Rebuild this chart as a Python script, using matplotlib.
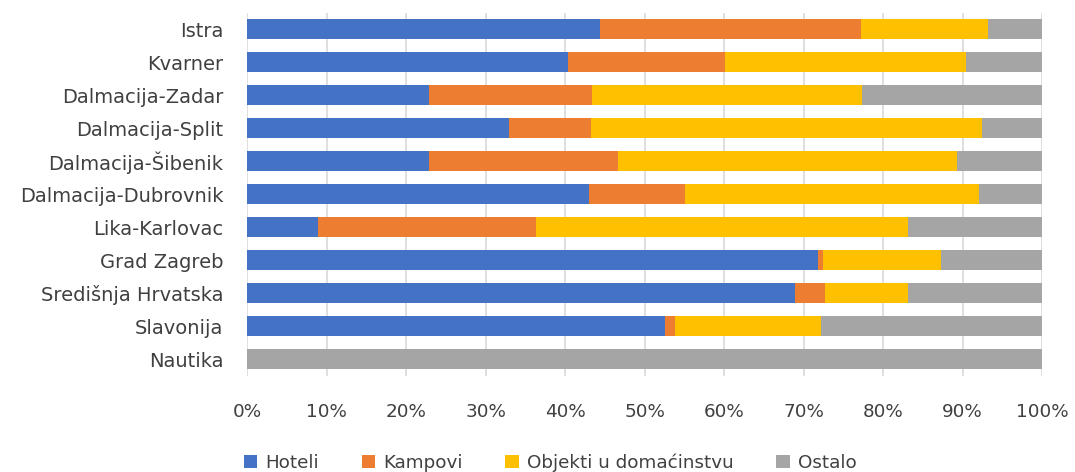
import numpy as np
import matplotlib
matplotlib.use("Agg")
import matplotlib.pyplot as plt
from matplotlib.ticker import PercentFormatter

plt.rcParams['font.family'] = ['DejaVu Sans']

regije = ['Istra', 'Kvarner', 'Dalmacija-Zadar', 'Dalmacija-Split',
          'Dalmacija-Šibenik', 'Dalmacija-Dubrovnik', 'Lika-Karlovac',
          'Grad Zagreb', 'Središnja Hrvatska', 'Slavonija', 'Nautika']

# udjeli (%) po vrsti smještaja
hoteli = [44.4, 40.4, 22.9, 33.0, 22.9, 43.0, 8.9, 71.8, 68.9, 52.6, 0.0]
kampovi = [32.8, 19.7, 20.5, 10.3, 23.8, 12.1, 27.4, 0.6, 3.8, 1.2, 0.0]
objekti = [16.0, 30.3, 33.9, 49.1, 42.6, 37.0, 46.8, 14.9, 10.4, 18.4, 0.0]
ostalo = [6.8, 9.6, 22.7, 7.6, 10.7, 7.9, 16.9, 12.7, 16.9, 27.8, 100.0]

serije = ['Hoteli', 'Kampovi', 'Objekti u domaćinstvu', 'Ostalo']
boje = ['#4472C4', '#ED7D31', '#FFC000', '#A5A5A5']

fig = plt.figure(figsize=(10.75, 4.72), dpi=100)
ax = fig.add_axes([0.2298, 0.2044, 0.7395, 0.7685])

y = np.arange(len(regije))
lijevo = np.zeros(len(regije))
for naziv, vrijednosti, boja in zip(serije, [hoteli, kampovi, objekti, ostalo], boje):
    ax.barh(y, vrijednosti, left=lijevo, height=0.6, color=boja, label=naziv, zorder=2)
    lijevo += np.array(vrijednosti)

ax.set_xlim(0, 100)
ax.set_ylim(len(regije) - 0.5, -0.5)
ax.set_yticks(y)
ax.set_yticklabels(regije, fontsize=14, color='#404040')
ax.set_xticks(np.arange(0, 101, 10))
ax.xaxis.set_major_formatter(PercentFormatter(decimals=0))
ax.tick_params(axis='x', labelsize=13.2, labelcolor='#404040', length=0, pad=20)
ax.tick_params(axis='y', length=0, pad=17)
ax.grid(axis='x', color='#D9D9D9', linewidth=1.2, zorder=0)
for s in ax.spines.values():
    s.set_visible(False)

fig.legend(loc='center', bbox_to_anchor=(0.5116, 0.02), ncol=4, frameon=False,
           fontsize=13.2, handlelength=0.72, handleheight=0.72, handletextpad=0.44,
           columnspacing=2.35, labelcolor='#404040')

fig.savefig('out.png', dpi=100)
